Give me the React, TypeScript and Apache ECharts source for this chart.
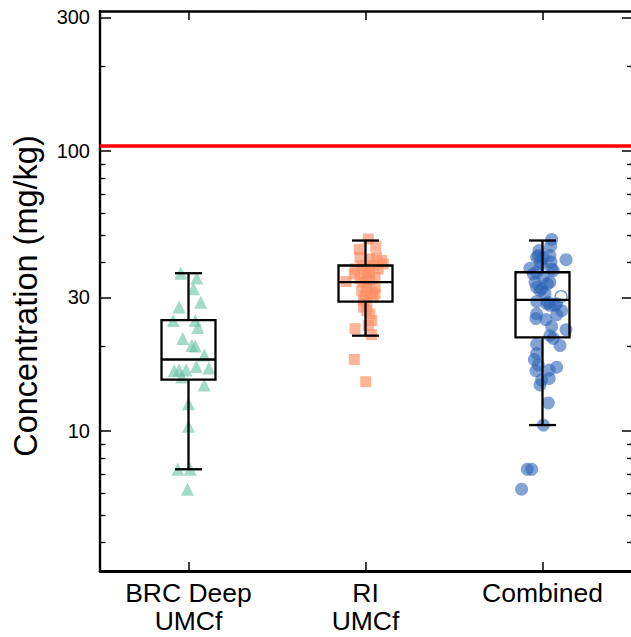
import React, { useEffect, useRef } from 'react';
import * as echarts from 'echarts';

// ---- categories & box statistics (mg/kg) ----
const categories = ['BRC Deep\nUMCf', 'RI\nUMCf', 'Combined'];
const whiskerLow = [7.3, 21.9, 10.5];
const quartile1 = [15.25, 29.0, 21.6];
const medians = [18.0, 34.0, 29.4];
const quartile3 = [24.9, 39.0, 36.9];
const whiskerHigh = [36.6, 47.9, 47.9];

// ---- individual samples (mg/kg) with horizontal jitter (category units) ----
const brcValues = [36.6, 35.2, 32.2, 27.7, 28.8, 24.8, 24.8, 23.4, 21.4, 20.2, 20.1, 18.7, 17.0, 16.8, 16.4, 16.5, 16.5, 15.6, 14.6, 12.5, 10.4, 7.3, 7.3, 6.2];
const brcJitter = [-0.044, 0.047, 0.028, -0.053, 0.069, -0.086, 0.038, 0.053, -0.032, 0.019, 0.038, 0.089, 0.044, 0.115, -0.081, -0.053, -0.013, -0.038, 0.089, 0.0, 0.0, -0.06, 0.01, -0.006];

const riValues = [48.5, 45.7, 44.5, 41.7, 41.7, 41.2, 40.6, 39.5, 39.0, 39.0, 37.9, 37.9, 37.9, 36.9, 36.4, 36.4, 35.4, 35.0, 34.2, 34.0, 34.5, 32.6, 32.6, 31.8, 31.3, 30.9, 30.5, 30.1, 29.3, 28.8, 27.7, 26.9, 26.2, 23.8, 24.8, 23.2, 22.1, 18.0, 15.0];
const riJitter = [0.016, 0.058, -0.035, -0.031, 0.063, 0.025, 0.092, 0.101, 0.044, -0.021, -0.059, -0.003, 0.072, 0.021, -0.063, 0.007, 0.054, -0.031, -0.11, -0.012, 0.025, 0.054, 0.007, -0.021, 0.035, 0.054, -0.003, 0.044, -0.012, 0.007, -0.012, 0.007, 0.025, 0.016, 0.035, -0.059, 0.035, -0.063, 0.001];

const combinedValues = [48.3, 45.7, 44.1, 42.3, 42.3, 41.7, 41.7, 40.9, 40.1, 40.1, 39.5, 38.1, 37.9, 37.4, 36.9, 36.4, 35.4, 34.0, 34.0, 33.5, 32.2, 32.6, 31.8, 30.9, 29.0, 28.5, 28.8, 28.1, 28.5, 28.1, 26.9, 26.2, 26.0, 25.0, 25.2, 23.6, 23.0, 21.9, 21.4, 20.4, 20.2, 18.9, 18.0, 17.2, 16.4, 16.9, 16.5, 15.2, 14.6, 15.4, 12.6, 10.5, 7.3, 7.3, 6.2];
const combinedJitter = [0.052, 0.046, -0.02, -0.024, 0.042, -0.033, 0.005, 0.133, 0.048, -0.014, -0.005, -0.071, 0.052, 0.061, -0.033, -0.052, 0.005, -0.042, 0.042, 0.028, -0.005, -0.033, -0.014, 0.014, -0.033, 0.024, 0.033, 0.042, 0.08, 0.071, 0.108, -0.033, 0.08, 0.02, -0.037, 0.052, 0.133, 0.042, 0.061, -0.033, 0.099, -0.033, -0.046, -0.024, -0.037, 0.08, 0.038, -0.005, -0.014, 0.038, 0.033, 0.005, -0.086, -0.061, -0.118];
const combinedOpenValues = [30.2];
const combinedOpenJitter = [0.105];

// ---- axis ticks (mg/kg) ----
const yMajorTicks = [10, 30, 100, 300];
const yMinorTicks = [4, 5, 6, 7, 8, 9, 20, 40, 50, 60, 70, 80, 90, 200];
const yMin = 10 ** 0.5;
const yMax = 10 ** 2.5;
const thresholdValue = 104;
const yTitle = 'Concentration (mg/kg)';

const FONT = '"Liberation Sans", Arial, Helvetica, sans-serif';
const lg = (v: number) => Math.log10(v);

export default function App() {
  const ref = useRef<HTMLDivElement>(null);

  useEffect(() => {
    if (!ref.current) return;
    const chart = echarts.init(ref.current, undefined, { renderer: 'svg' });

    const boxData = categories.map((_, i) => [
      i,
      lg(whiskerLow[i]),
      lg(quartile1[i]),
      lg(medians[i]),
      lg(quartile3[i]),
      lg(whiskerHigh[i]),
    ]);
    const pts = (vals: number[], jit: number[], idx: number) =>
      vals.map((v, k) => [idx + jit[k], lg(v)]);

    const boxWidth = 0.305;
    const lineStyle = { stroke: '#000', lineWidth: 2.3, fill: 'none' };

    const yBase = {
      type: 'value' as const,
      min: lg(yMin),
      max: lg(yMax),
      splitLine: { show: false },
    };

    chart.setOption({
      animation: false,
      backgroundColor: '#fff',
      grid: { left: 100, right: 0, top: 11, bottom: 66, containLabel: false },
      graphic: [
        {
          type: 'text',
          x: 26,
          y: 296,
          rotation: Math.PI / 2,
          style: {
            text: yTitle,
            fill: '#000',
            fontSize: 32.5,
            fontFamily: FONT,
            align: 'center',
            verticalAlign: 'middle',
          },
        },
      ],
      xAxis: [
        {
          type: 'category',
          data: categories,
          position: 'bottom',
          boundaryGap: true,
          axisLine: { show: true, onZero: false, lineStyle: { color: '#000', width: 2.8 } },
          axisTick: { show: true, inside: true, alignWithLabel: true, length: 9, lineStyle: { color: '#000', width: 1.5 } },
          axisLabel: { color: '#000', fontSize: 26.5, lineHeight: 28, fontFamily: FONT, margin: 8 },
          splitLine: { show: false },
        },
        {
          type: 'category',
          data: categories,
          position: 'top',
          boundaryGap: true,
          axisLine: { show: true, onZero: false, lineStyle: { color: '#000', width: 2.6 } },
          axisTick: { show: true, inside: true, alignWithLabel: true, length: 9, lineStyle: { color: '#000', width: 1.5 } },
          axisLabel: { show: false },
          splitLine: { show: false },
        },
        {
          type: 'value',
          min: -0.5,
          max: 2.5,
          show: false,
          axisLine: { show: false, onZero: false },
        },
      ],
      yAxis: [
        {
          ...yBase,
          position: 'left',
          axisLine: { show: true, onZero: false, lineStyle: { color: '#000', width: 2.4 } },
          axisTick: { show: true, inside: true, length: 11, customValues: yMajorTicks.map(lg), lineStyle: { color: '#000', width: 1.5 } },
          axisLabel: {
            color: '#000',
            fontSize: 20,
            fontFamily: FONT,
            margin: 10,
            customValues: yMajorTicks.map(lg),
            formatter: (v: number) => String(Math.round(10 ** v)),
          },
        },
        {
          ...yBase,
          position: 'left',
          axisLine: { show: false, onZero: false },
          axisTick: { show: true, inside: true, length: 5.5, customValues: yMinorTicks.map(lg), lineStyle: { color: '#000', width: 1.3 } },
          axisLabel: { show: false },
        },
        {
          ...yBase,
          position: 'right',
          axisLine: { show: false, onZero: false },
          axisTick: { show: true, inside: true, length: 9, customValues: yMajorTicks.map(lg), lineStyle: { color: '#000', width: 1.5 } },
          axisLabel: { show: false },
        },
        {
          ...yBase,
          position: 'right',
          axisLine: { show: false, onZero: false },
          axisTick: { show: true, inside: true, length: 4, customValues: yMinorTicks.map(lg), lineStyle: { color: '#000', width: 1.3 } },
          axisLabel: { show: false },
        },
      ],
      series: [
        {
          type: 'scatter',
          xAxisIndex: 2,
          yAxisIndex: 0,
          symbol: 'triangle',
          symbolSize: 13,
          itemStyle: { color: '#66c2a5', opacity: 0.6 },
          data: pts(brcValues, brcJitter, 0),
          z: 2,
          markLine: {
            silent: true,
            symbol: ['none', 'none'],
            label: { show: false },
            lineStyle: { color: '#ff0000', width: 3.5, type: 'solid' },
            data: [{ yAxis: lg(thresholdValue) }],
            z: 5,
          },
        },
        {
          type: 'scatter',
          xAxisIndex: 2,
          yAxisIndex: 0,
          symbol: 'rect',
          symbolSize: 11,
          itemStyle: { color: '#fc8d62', opacity: 0.65 },
          data: pts(riValues, riJitter, 1),
          z: 2,
        },
        {
          type: 'scatter',
          xAxisIndex: 2,
          yAxisIndex: 0,
          symbol: 'circle',
          symbolSize: 13,
          itemStyle: { color: '#2f66b8', opacity: 0.6 },
          data: pts(combinedValues, combinedJitter, 2),
          z: 2,
        },
        {
          type: 'scatter',
          xAxisIndex: 2,
          yAxisIndex: 0,
          symbol: 'circle',
          symbolSize: 12,
          itemStyle: { color: 'rgba(255,255,255,0)', borderColor: '#2f66b8', borderWidth: 1.3, opacity: 0.7 },
          data: pts(combinedOpenValues, combinedOpenJitter, 2),
          z: 2,
        },
        {
          type: 'custom',
          xAxisIndex: 2,
          yAxisIndex: 0,
          z: 4,
          encode: { x: 0, y: [1, 2, 3, 4, 5] },
          data: boxData,
          renderItem: (_params: any, api: any) => {
            const i = api.value(0);
            const lo = api.coord([i, api.value(1)]);
            const q1 = api.coord([i, api.value(2)]);
            const md = api.coord([i, api.value(3)]);
            const q3 = api.coord([i, api.value(4)]);
            const hi = api.coord([i, api.value(5)]);
            const bw = api.size([boxWidth, 0])[0];
            const cx = q1[0];
            const cap = bw / 4;
            return {
              type: 'group',
              children: [
                { type: 'rect', shape: { x: cx - bw / 2, y: q3[1], width: bw, height: q1[1] - q3[1] }, style: lineStyle },
                { type: 'line', shape: { x1: cx - bw / 2, y1: md[1], x2: cx + bw / 2, y2: md[1] }, style: lineStyle },
                { type: 'line', shape: { x1: cx, y1: q3[1], x2: cx, y2: hi[1] }, style: lineStyle },
                { type: 'line', shape: { x1: cx, y1: q1[1], x2: cx, y2: lo[1] }, style: lineStyle },
                { type: 'line', shape: { x1: cx - cap, y1: hi[1], x2: cx + cap, y2: hi[1] }, style: lineStyle },
                { type: 'line', shape: { x1: cx - cap, y1: lo[1], x2: cx + cap, y2: lo[1] }, style: lineStyle },
              ],
            };
          },
        },
      ],
    });

    return () => chart.dispose();
  }, []);

  return (
    <div
      ref={ref}
      style={{ position: 'absolute', left: 0, top: 0, width: 631, height: 637, background: '#fff' }}
    />
  );
}
